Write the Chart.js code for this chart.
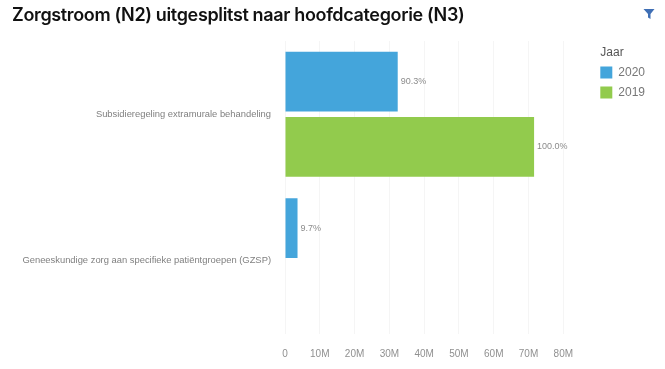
<!DOCTYPE html>
<html><head><meta charset="utf-8">
<style>
html,body{margin:0;padding:0;background:#fff;width:665px;height:369px;overflow:hidden}
#wrap{position:relative;width:665px;height:369px}
#t{position:absolute;left:12px;top:4px;font:600 18px Inter,sans-serif;color:#111;letter-spacing:-0.35px;white-space:nowrap}
#f{position:absolute;left:643px;top:8px}
</style>
<script src="https://cdn.jsdelivr.net/npm/chart.js@4"></script>
</head><body><div id="wrap">
<canvas id="c" width="665" height="369"></canvas>
<div id="t">Zorgstroom (N2) uitgesplitst naar hoofdcategorie (N3)</div>
<svg id="f" width="12" height="12" viewBox="0 0 12 12"><path d="M0.5 1H11.5L7.5 6V11L5 9.5V6Z" fill="#3f6fb5"/></svg>
</div>
<script>
const categories = ['Subsidieregeling extramurale behandeling','Geneeskundige zorg aan specifieke patiëntgroepen (GZSP)'];
const values2020 = [32400000, 3600000];
const values2019 = [71600000, null];
const labels2020 = ['90.3%','9.7%'];
const labels2019 = ['100.0%',''];
const xMax = 80000000;
const xStep = 10000000;
const sans = '"Liberation Sans",Arial,sans-serif';
const barLabels = {id:'barLabels',
  beforeDraw(ch){
    const l=ch.legend;
    if(l && !l._shifted){
      const o=l.drawTitle;
      l.drawTitle=function(){this.ctx.save();this.ctx.translate(8,0);o.call(this);this.ctx.restore();};
      l._shifted=true;
    }
  },
  afterDatasetsDraw(ch){
    const g=ch.ctx;g.save();g.font='9px '+sans;g.fillStyle='#8c8c8c';g.textBaseline='middle';g.textAlign='left';
    [labels2020,labels2019].forEach((l,i)=>{ch.getDatasetMeta(i).data.forEach((b,j)=>{if(l[j])g.fillText(l[j],b.x+3,b.y);});});
    g.restore();
  }
};
new Chart(document.getElementById('c'),{
  type:'bar',
  data:{labels:categories,datasets:[
    {label:'2020',data:values2020,backgroundColor:'#44a5db'},
    {label:'2019',data:values2019,backgroundColor:'#92cb4d'}
  ]},
  options:{
    indexAxis:'y',responsive:false,animation:false,
    layout:{padding:{left:0,right:10,top:41,bottom:-5}},
    datasets:{bar:{categoryPercentage:0.89,barPercentage:0.916}},
    plugins:{
      tooltip:{enabled:false},
      title:{display:false},
      legend:{display:true,position:'right',align:'start',
        title:{display:true,text:'Jaar',position:'start',color:'#555',font:{size:12,family:sans},padding:{top:6,bottom:-3}},
        labels:{boxWidth:12,boxHeight:12,color:'#777',font:{size:12,family:sans},padding:8}
      }
    },
    scales:{
      x:{type:'linear',min:0,max:xMax,position:'bottom',
        grid:{color:'#f5f5f5',drawTicks:false},border:{display:false},
        ticks:{stepSize:xStep,padding:14,maxRotation:0,color:'#909090',font:{size:10,family:sans},
          callback:v=>v===0?'0':(v/1000000)+'M'}},
      y:{type:'category',grid:{display:false,drawTicks:false},border:{display:false},
        afterFit(s){s.width=285},
        ticks:{padding:14,autoSkip:false,color:'#808080',font:{size:9.4,family:sans}}},
      spacer:{type:'linear',position:'right',display:true,grid:{display:false,drawTicks:false},border:{display:false},
        ticks:{display:false},afterFit(s){s.width=29}}
    }
  },
  plugins:[barLabels]
});
</script></body></html>
